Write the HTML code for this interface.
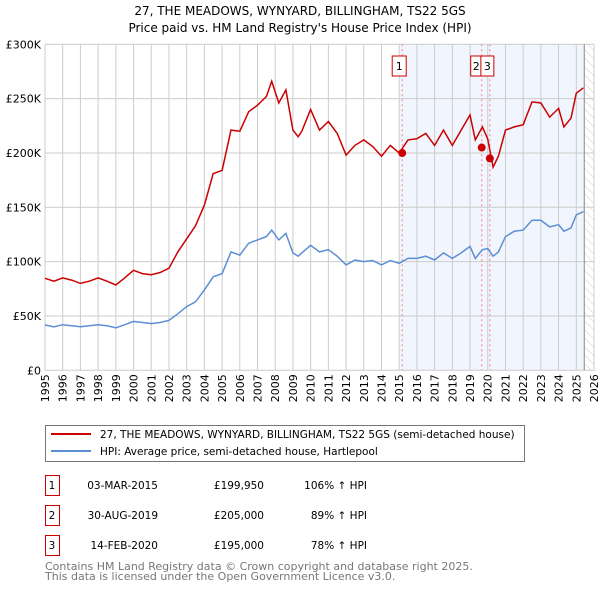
<!DOCTYPE html>
<html><head><meta charset="utf-8"><style>
body{margin:0;background:#fff;font-family:"DejaVu Sans","Liberation Sans",sans-serif;}
svg text{font-family:"DejaVu Sans","Liberation Sans",sans-serif;}
</style></head><body>
<svg id="chart" width="600" height="590" xmlns="http://www.w3.org/2000/svg">
<defs><pattern id="hatch" width="6" height="6" patternUnits="userSpaceOnUse" patternTransform="rotate(-45)"><line x1="0" y1="0" x2="0" y2="6" stroke="#ccc" stroke-width="1"/></pattern></defs>
<text x="300" y="15" text-anchor="middle" font-size="12">27, THE MEADOWS, WYNYARD, BILLINGHAM, TS22 5GS</text>
<text x="300" y="32" text-anchor="middle" font-size="12">Price paid vs. HM Land Registry's House Price Index (HPI)</text>
<g id="plot"></g>
<rect x="45.5" y="425.5" width="479" height="36" fill="#fff" stroke="#777"/>
<line x1="51" y1="434" x2="91" y2="434" stroke="#cc0000" stroke-width="2"/>
<text x="100" y="438" font-size="10.5">27, THE MEADOWS, WYNYARD, BILLINGHAM, TS22 5GS (semi-detached house)</text>
<line x1="51" y1="451" x2="91" y2="451" stroke="#5b8fd4" stroke-width="2"/>
<text x="100" y="455" font-size="10.5">HPI: Average price, semi-detached house, Hartlepool</text>
<g font-size="10.5">
<rect x="45.5" y="475.5" width="14" height="20" fill="#fff" stroke="#cc0000"/><text x="52" y="489" text-anchor="middle">1</text>
<text x="158" y="489" text-anchor="end">03-MAR-2015</text><text x="264" y="489" text-anchor="end">£199,950</text><text x="367" y="489" text-anchor="end">106% ↑ HPI</text>
<rect x="45.5" y="505.5" width="14" height="20" fill="#fff" stroke="#cc0000"/><text x="52" y="519" text-anchor="middle">2</text>
<text x="158" y="519" text-anchor="end">30-AUG-2019</text><text x="264" y="519" text-anchor="end">£205,000</text><text x="367" y="519" text-anchor="end">89% ↑ HPI</text>
<rect x="45.5" y="535.5" width="14" height="20" fill="#fff" stroke="#cc0000"/><text x="52" y="549" text-anchor="middle">3</text>
<text x="158" y="549" text-anchor="end">14-FEB-2020</text><text x="264" y="549" text-anchor="end">£195,000</text><text x="367" y="549" text-anchor="end">78% ↑ HPI</text>
</g>
<text x="45" y="570" font-size="11" fill="#777">Contains HM Land Registry data © Crown copyright and database right 2025.</text>
<text x="45" y="580" font-size="11" fill="#777">This data is licensed under the Open Government Licence v3.0.</text>
</svg>
<script>
const years=[1995,1995.5,1996,1996.5,1997,1997.5,1998,1998.5,1999,1999.5,2000,2000.5,2001,2001.5,2002,2002.5,2003,2003.5,2004,2004.5,2005,2005.5,2006,2006.5,2007,2007.5,2007.8,2008.2,2008.6,2009,2009.3,2009.5,2010,2010.5,2011,2011.5,2012,2012.5,2013,2013.5,2014,2014.5,2015,2015.5,2016,2016.5,2017,2017.5,2018,2018.5,2019,2019.3,2019.7,2020,2020.3,2020.6,2021,2021.5,2022,2022.5,2023,2023.5,2024,2024.3,2024.7,2025,2025.4];
const hpi=[41.7,40,42,41,40,41,42,41,39,42,45,44,43,44,46,52,58.6,63,74,86,89,109,106,117,120,123,129,120,126,108,105,108,115,109,111,105,97,101.5,100,101,97,101,98.5,103,103,105,101.5,108,103,108,114,103,111,112,105,109,123,128,129,138,138,132,134,128,131,143,146];
const property=[84.7,82,85,83,80,82,85,82,78.5,85,92,89,88,90,94,109,121,133,152,181,184,221,220,238,244,252,266,246,258,221,215,220,240,221,229,218,198,207,212,206,197,207,200,212,213,218,207,221,207,221,235,212,224,213,187,197,221,224,226,247,246,233,241,224,232,255,260];
const saleYears=[2015.17,2019.66,2020.12];
const salePrices=[199.95,205,195];
const saleLabels=["1","2","3"];
const yTicks=[0,50,100,150,200,250,300];
const yTickLabels=["£0","£50K","£100K","£150K","£200K","£250K","£300K"];
const xTicks=[];for(let y=1995;y<=2026;y++)xTicks.push(y);

const X0=45,X1=594,Y0=370.3,Y1=44.3;
const xs=y=>X0+(y-1995)/(2026-1995)*(X1-X0);
const ys=v=>Y0-v/300*(Y0-Y1);
const NS="http://www.w3.org/2000/svg";
const plot=document.getElementById('plot');
function mk(t,a,parent){const e=document.createElementNS(NS,t);for(const k in a)e.setAttribute(k,a[k]);(parent||plot).appendChild(e);return e;}
let e;
e=mk('rect',{x:xs(2015),y:Y1,width:xs(2025.45)-xs(2015),height:Y0-Y1,fill:'#eef3fc',opacity:0.8});


e=mk('rect',{x:xs(2025.45),y:Y1,width:X1-xs(2025.45),height:Y0-Y1,fill:'url(#hatch)'});


xTicks.forEach(y=>{
 e=mk('line',{x1:xs(y),x2:xs(y),y1:Y1,y2:Y0,stroke:'#ccc','stroke-width':1});
 
 
 const tx=xs(y)+4, ty=Y0+4;
 const g=mk('g',{transform:'translate('+tx+','+ty+') rotate(-90)'});
 e=mk('text',{x:0,y:0,'text-anchor':'end','font-size':11},g);
 e.style.transform='none';
 e.textContent=y;
 
 
});
yTicks.forEach((v,i)=>{
 e=mk('line',{x1:X0,x2:X1,y1:ys(v),y2:ys(v),stroke:'#ccc','stroke-width':1});
 
 
 e=mk('text',{x:X0-4,y:ys(v)+4,'text-anchor':'end','font-size':11});
 e.textContent=yTickLabels[i];
 
 
});
e=mk('line',{x1:xs(2025.45),x2:xs(2025.45),y1:Y1,y2:Y0,stroke:'#888','stroke-width':1});


saleYears.forEach((y,i)=>{
 e=mk('line',{x1:xs(y),x2:xs(y),y1:Y1,y2:Y0,stroke:'#f08080','stroke-width':1,'stroke-dasharray':'2,3'});
 
 
});
const pts=a=>years.map((y,i)=>xs(y).toFixed(1)+','+ys(a[i]).toFixed(1)).join(' ');
e=mk('polyline',{points:pts(hpi),fill:'none',stroke:'#5b8fd4','stroke-width':1.5});


e=mk('polyline',{points:pts(property),fill:'none',stroke:'#cc0000','stroke-width':1.5});


const boxOff=[-10,-11,-9];
const boxW=[14,11,13];
saleYears.forEach((y,i)=>{
 e=mk('circle',{cx:xs(y),cy:ys(salePrices[i]),r:4,fill:'#cc0000'});
 
 
 const bx=xs(y)+boxOff[i];
 e=mk('rect',{x:bx,y:56,width:boxW[i],height:20,fill:'#fff',stroke:'#cc0000'});
 
 
 e=mk('text',{x:bx+boxW[i]/2,y:70,'text-anchor':'middle','font-size':11});
 e.textContent=saleLabels[i];
 
 
});
</script>
</body></html>
